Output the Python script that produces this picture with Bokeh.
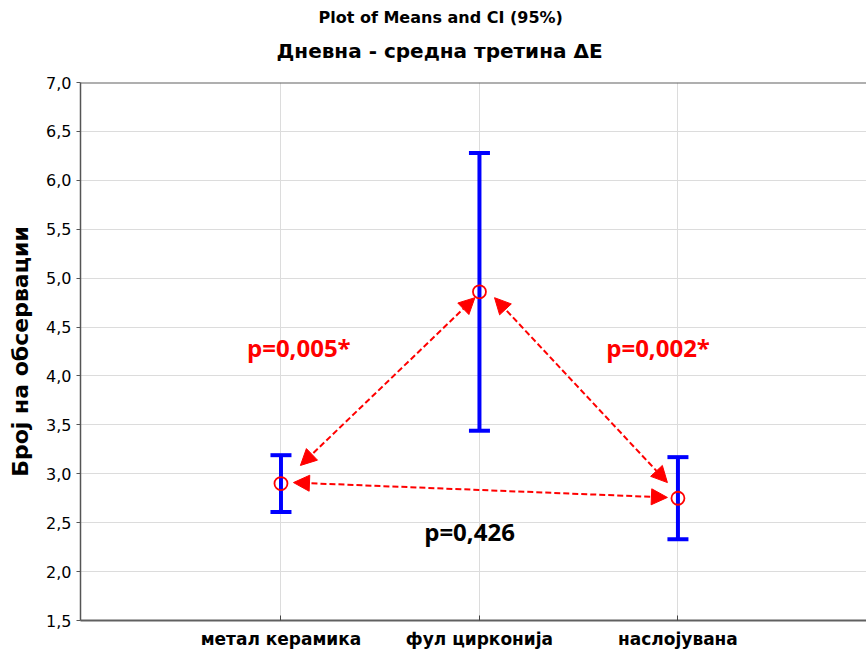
from bokeh.plotting import figure
from bokeh.models import (Range1d, FixedTicker, ColumnDataSource, Whisker, TeeHead,
                          Arrow, NormalHead, Label, Span, Title)
from bokeh.embed import file_html
from bokeh.resources import INLINE

# ---- data ----
categories = ["метал керамика", "фул цирконија", "наслојувана"]
cat_pos = [1, 2, 3]
means = [2.90, 4.86, 2.75]
ci_upper = [3.19, 6.28, 3.17]
ci_lower = [2.61, 3.44, 2.33]

y_ticks = [1.5, 2.0, 2.5, 3.0, 3.5, 4.0, 4.5, 5.0, 5.5, 6.0, 6.5, 7.0]
y_tick_labels = ["1,5", "2,0", "2,5", "3,0", "3,5", "4,0", "4,5", "5,0", "5,5", "6,0", "6,5", "7,0"]

comparisons = [(0, 1), (1, 2), (0, 2)]
p_labels = ["p=0,005*", "p=0,002*", "p=0,426"]
p_label_x = [1.09, 2.90, 1.95]
p_label_y = [4.29, 4.29, 2.41]
p_label_colors = ["#ff0000", "#ff0000", "#000000"]

# arrow end offsets (styling, relative to the means)
arrow_offsets = [
    ((0.098, 0.185), (-0.023, -0.06)),
    ((0.076, -0.06), (-0.053, 0.16)),
    ((0.063, 0.01), (-0.053, 0.008)),
]

FONT = "DejaVu Sans"

p = figure(width=866, height=653, output_backend="svg", toolbar_location=None,
           x_range=Range1d(-0.01, 3.95), y_range=Range1d(1.5, 7.0),
           min_border_left=80, min_border_right=0, min_border_bottom=33, min_border_top=82,
           title=None)
p.outline_line_color = None
p.background_fill_color = "white"
p.border_fill_color = "white"

# titles
sub = Title(text="Дневна - средна третина  ΔE", align="left", offset=196,
            text_font=FONT, text_font_size="20px", text_font_style="bold",
            text_color="black", standoff=40)
main = Title(text="Plot of Means and CI (95%)", align="left", offset=238,
             text_font=FONT, text_font_size="16px", text_font_style="bold",
             text_color="black", standoff=-20)
p.add_layout(sub, "above")
p.add_layout(main, "above")

# axes
p.xaxis.ticker = FixedTicker(ticks=cat_pos)
p.xaxis.major_label_overrides = {pos: lab for pos, lab in zip(cat_pos, categories)}
p.xaxis.major_label_text_font = FONT
p.xaxis.major_label_text_font_size = "17px"
p.xaxis.major_label_text_font_style = "bold"
p.xaxis.major_label_text_color = "black"
p.xaxis.major_tick_in = 5
p.xaxis.major_tick_out = 0
p.xaxis.major_tick_line_color = "#444444"
p.xaxis.minor_tick_line_color = None
p.xaxis.axis_line_color = "#606060"
p.xaxis.axis_line_width = 2
p.xaxis.major_label_standoff = 8

p.yaxis.ticker = FixedTicker(ticks=y_ticks)
p.yaxis.major_label_overrides = {t: lab for t, lab in zip(y_ticks, y_tick_labels)}
p.yaxis.major_label_text_font = FONT
p.yaxis.major_label_text_font_size = "16px"
p.yaxis.major_label_text_color = "black"
p.yaxis.major_tick_in = 0
p.yaxis.major_tick_out = 4
p.yaxis.major_tick_line_color = "#555555"
p.yaxis.minor_tick_line_color = None
p.yaxis.axis_line_color = "#555555"
p.yaxis.axis_line_width = 1.5
p.yaxis.major_label_standoff = 5
p.yaxis.axis_label = "Број на обсервации"
p.yaxis.axis_label_text_font = FONT
p.yaxis.axis_label_text_font_size = "22px"
p.yaxis.axis_label_text_font_style = "bold"
p.yaxis.axis_label_text_color = "black"
p.yaxis.axis_label_standoff = 10

p.xgrid.grid_line_color = "#dcdcdc"
p.ygrid.grid_line_color = "#dcdcdc"
p.xgrid.ticker = FixedTicker(ticks=cat_pos)

# top frame line
p.add_layout(Span(location=y_ticks[-1], dimension="width", line_color="#606060", line_width=2))

# error bars
src = ColumnDataSource(dict(x=cat_pos, mean=means, upper=ci_upper, lower=ci_lower))
w = Whisker(base="x", upper="upper", lower="lower", source=src,
            line_color="#0000ff", line_width=4,
            upper_head=TeeHead(size=21, line_color="#0000ff", line_width=4),
            lower_head=TeeHead(size=21, line_color="#0000ff", line_width=4))
p.add_layout(w)

# comparison arrows
for (i, j), ((dxs, dys), (dxe, dye)) in zip(comparisons, arrow_offsets):
    p.add_layout(Arrow(
        x_start=cat_pos[i] + dxs, y_start=means[i] + dys,
        x_end=cat_pos[j] + dxe, y_end=means[j] + dye,
        line_color="#ff0000", line_width=2, line_dash="6 3",
        start=NormalHead(size=16, fill_color="#ff0000", line_color="#ff0000", line_width=1),
        end=NormalHead(size=16, fill_color="#ff0000", line_color="#ff0000", line_width=1)))

# means
p.scatter("x", "mean", source=src, marker="circle", size=13,
          fill_color=None, line_color="#ff0000", line_width=1.8)

# p-value labels
for txt, lx, ly, col in zip(p_labels, p_label_x, p_label_y, p_label_colors):
    p.add_layout(Label(x=lx, y=ly, text=txt, text_align="center", text_baseline="middle",
                       text_font="Open Sans", text_font_size="24px", text_font_style="bold",
                       text_color=col))

open("out.html", "w").write(file_html(p, INLINE))
